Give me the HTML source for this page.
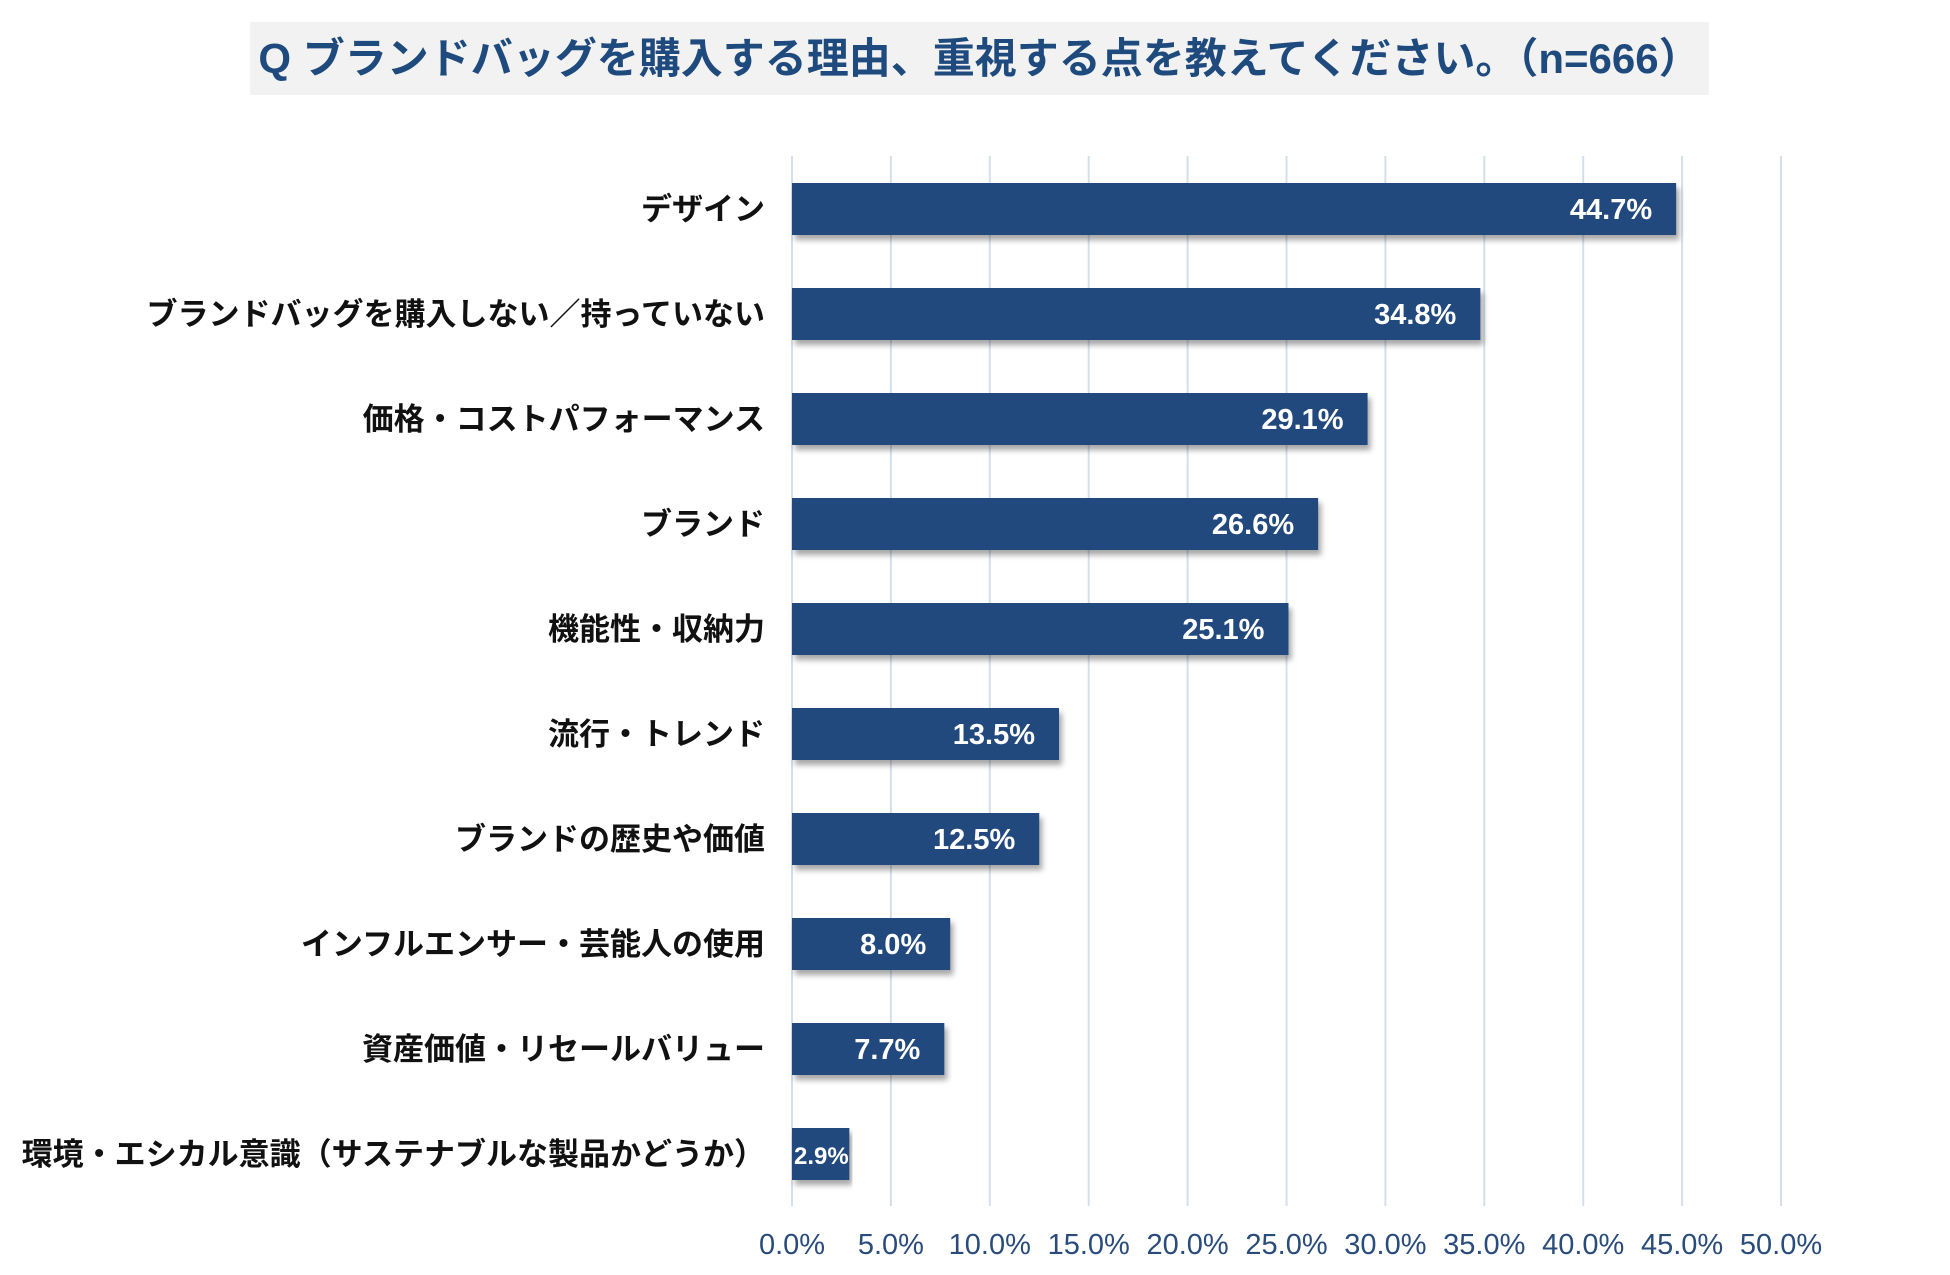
<!DOCTYPE html>
<html><head><meta charset="utf-8"><style>
body{margin:0;background:#fff;width:1950px;height:1275px;overflow:hidden;font-family:"Liberation Sans","Noto Sans CJK JP",sans-serif}
#title{position:absolute;left:250px;top:22px;width:1459px;height:73px;background:#f2f2f2;color:#1f4a7e;font-weight:bold;font-size:42px;line-height:73px;text-align:center;font-family:"Liberation Sans","Noto Sans CJK JP",sans-serif}
</style></head><body>
<div id="title">Q ブランドバッグを購入する理由、重視する点を教えてください。（n=666）</div>
<svg id="chart" width="1950" height="1275" style="position:absolute;left:0;top:0">
<defs><filter id="sh" x="-5%" y="-20%" width="110%" height="160%"><feDropShadow dx="3" dy="5" stdDeviation="3" flood-color="#000" flood-opacity="0.35"/></filter></defs>
</svg>
<script>
const categories=["デザイン","ブランドバッグを購入しない／持っていない","価格・コストパフォーマンス","ブランド","機能性・収納力","流行・トレンド","ブランドの歴史や価値","インフルエンサー・芸能人の使用","資産価値・リセールバリュー","環境・エシカル意識（サステナブルな製品かどうか）"];
const values=[44.7,34.8,29.1,26.6,25.1,13.5,12.5,8.0,7.7,2.9];
const ticks=[0,5,10,15,20,25,30,35,40,45,50];
const svgEl=document.getElementById('chart');
const NS='http://www.w3.org/2000/svg';
const X0=792,X1=1781,yTop=156,yBottom=1206,rowStep=105,firstC=209,barH=52;
const xs=v=>X0+(X1-X0)*v/50;
const yc=i=>firstC+i*rowStep;
function mk(t,a){const e=document.createElementNS(NS,t);for(const k in a)e.setAttribute(k,a[k]);svgEl.appendChild(e);return e;}
ticks.forEach(t=>{
 const l=mk('line',{x1:xs(t),x2:xs(t),y1:yTop,y2:yBottom,stroke:'#d5dfec','stroke-width':2});
 
 
 const tx=mk('text',{x:xs(t),y:1254,'text-anchor':'middle','font-size':29,fill:'#2a4c7c'});
 tx.textContent=t.toFixed(1)+'%';
 
 
});
values.forEach((v,i)=>{
 const y=yc(i);
 const r=mk('rect',{x:X0,y:y-barH/2,width:xs(v)-X0,height:barH,fill:'#224a7d',filter:'url(#sh)'});
 
 
 const vl=mk('text',{x:v<5?X0+2:xs(v)-24,y:y+10,'text-anchor':v<5?'start':'end','font-size':v<5?24:29,'font-weight':'bold',fill:'#fff'});
 vl.textContent=v.toFixed(1)+'%';
 
 
 const cl=mk('text',{x:765,y:y+11,'text-anchor':'end','font-size':31,'font-weight':'bold',fill:'#111'});
 cl.textContent=categories[i];
 
 
});
</script>
</body></html>
